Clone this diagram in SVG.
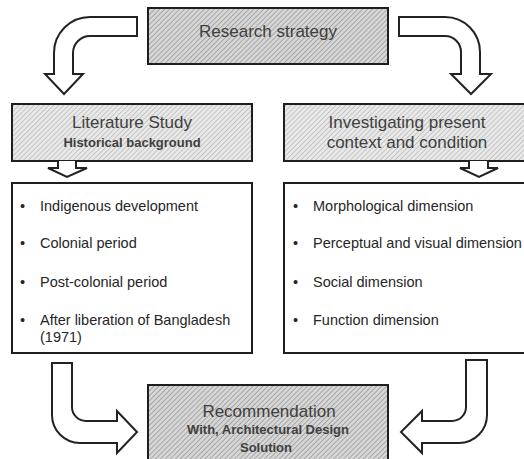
<svg xmlns="http://www.w3.org/2000/svg" width="524" height="459" viewBox="0 0 524 459">
<defs>
<pattern id="hatchLight" width="3.5" height="3.5" patternUnits="userSpaceOnUse" patternTransform="rotate(45)">
<rect width="3.5" height="3.5" fill="#e8e8e8"/>
<line x1="0" y1="0" x2="0" y2="3.5" stroke="#a8a8a8" stroke-width="1"/>
</pattern>
<pattern id="hatchDark" width="3.5" height="3.5" patternUnits="userSpaceOnUse" patternTransform="rotate(45)">
<rect width="3.5" height="3.5" fill="#d6d6d6"/>
<line x1="0" y1="0" x2="0" y2="3.5" stroke="#8a8a8a" stroke-width="1.2"/>
</pattern>
</defs>
<style>
.box{stroke:#1e1e1e;stroke-width:2}
.light{fill:url(#hatchLight)}
.dark{fill:url(#hatchDark)}
.plain{fill:#ffffff}
.arrow{fill:#ffffff;stroke:#222222;stroke-width:2;stroke-linejoin:miter}
.h{font-family:"Liberation Sans",Arial,sans-serif;font-size:17px;fill:#404040;text-anchor:middle}
.hs{font-family:"Liberation Sans",Arial,sans-serif;font-size:13px;font-weight:bold;fill:#404040;text-anchor:middle}
.item{font-family:"Liberation Sans",Arial,sans-serif;font-size:14.5px;fill:#262626}
</style>

<g id="research-strategy">
<rect class="box dark" x="148" y="8" width="240" height="56"/>
<text class="h" x="268" y="37">Research strategy</text>
</g>

<g id="literature-study">
<rect class="box light" x="12" y="104" width="240" height="57"/>
<text class="h" x="132" y="128">Literature Study</text>
<text class="hs" x="132" y="147">Historical background</text>
</g>

<g id="investigating">
<rect class="box light" x="284" y="104" width="246" height="57"/>
<text class="h" x="407" y="128">Investigating present</text>
<text class="h" x="407" y="148">context and condition</text>
</g>

<g id="historical-list">
<rect class="box plain" x="12" y="183" width="240" height="170"/>
<text class="item" x="20" y="211">•</text><text class="item" x="40" y="211">Indigenous development</text>
<text class="item" x="20" y="248">•</text><text class="item" x="40" y="248">Colonial period</text>
<text class="item" x="20" y="287">•</text><text class="item" x="40" y="287">Post-colonial period</text>
<text class="item" x="20" y="325">•</text><text class="item" x="40" y="325">After liberation of Bangladesh</text>
<text class="item" x="40" y="342">(1971)</text>
</g>

<g id="dimension-list">
<rect class="box plain" x="284" y="183" width="246" height="170"/>
<text class="item" x="293" y="211">•</text><text class="item" x="313" y="211">Morphological dimension</text>
<text class="item" x="293" y="248">•</text><text class="item" x="313" y="248">Perceptual and visual dimension</text>
<text class="item" x="293" y="287">•</text><text class="item" x="313" y="287">Social dimension</text>
<text class="item" x="293" y="325">•</text><text class="item" x="313" y="325">Function dimension</text>
</g>

<g id="recommendation">
<rect class="box dark" x="148" y="385" width="240" height="80"/>
<text class="h" x="269" y="417">Recommendation</text>
<text class="hs" x="268" y="434">With, Architectural Design</text>
<text class="hs" x="266" y="452">Solution</text>
</g>

<g id="connectors">
<path class="arrow" d="M137,17 H90 A36,36 0 0 0 54,53 V74 H45 L64,94 L83,74 H73 V53 A17,17 0 0 1 90,36 H137 Z"/>
<path class="arrow" d="M399,17 H445 A35,35 0 0 1 480,52 V74 H491 L471,94 L451,74 H461 V52 A16,16 0 0 0 445,36 H399 Z"/>
<path class="arrow" d="M58,161 V168 H48 L67,177 L87,168 H76 V161"/>
<path class="arrow" d="M469,161 V168 H460 L479,177 L498,168 H488 V161"/>
<path class="arrow" d="M52,363 V415 A28,28 0 0 0 80,443 H117 V453 L137,432 L117,411 V421 H86 A14,14 0 0 1 72,407 V363 Z"/>
<path class="arrow" d="M487,360 V415 A28,28 0 0 1 459,443 H422 V453 L401,432 L422,411 V421 H452 A14,14 0 0 0 466,407 V360 Z"/>
</g>
</svg>
